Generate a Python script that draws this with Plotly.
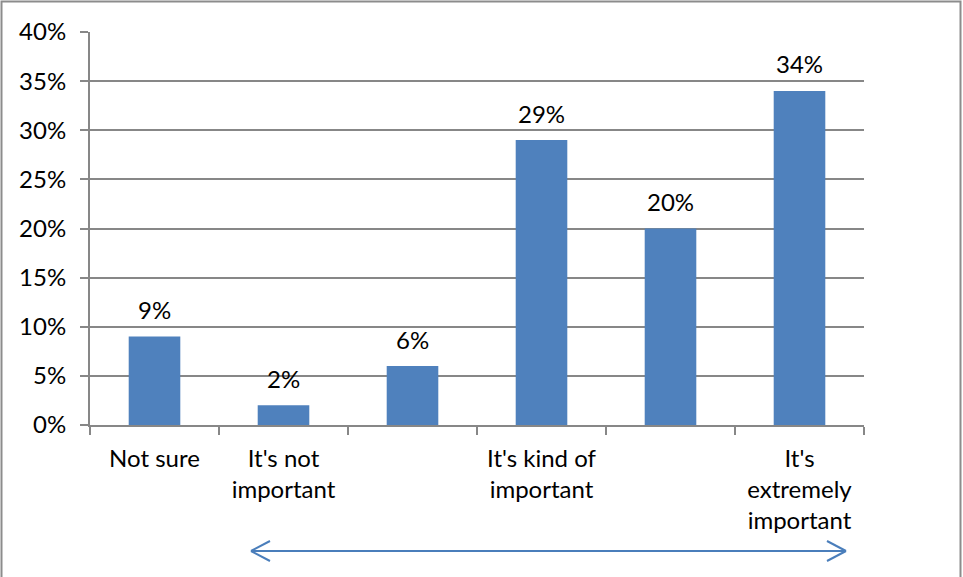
import plotly.graph_objects as go

categories = ["Not sure", "It's not<br>important", "", "It's kind of<br>important", "", "It's<br>extremely<br>important"]
values = [0.09, 0.02, 0.06, 0.29, 0.20, 0.34]
value_labels = ["9%", "2%", "6%", "29%", "20%", "34%"]
y_ticks = [0, 0.05, 0.10, 0.15, 0.20, 0.25, 0.30, 0.35, 0.40]
y_tick_labels = ["0%", "5%", "10%", "15%", "20%", "25%", "30%", "35%", "40%"]

W, H = 963, 577
ML, MR, MT, MB = 90, 99, 32, 152
PW, PH = W - ML - MR, H - MT - MB

FONT = "Lato"
BLUE = "#4F81BD"
GRID = "#878787"

x_idx = list(range(len(categories)))

fig = go.Figure()
fig.add_trace(go.Bar(x=x_idx, y=values, width=0.4, marker=dict(color=BLUE, line=dict(width=0)),
                     hoverinfo="skip"))

for i, (v, t) in enumerate(zip(values, value_labels)):
    fig.add_annotation(x=i, y=v, text=t, showarrow=False, yanchor="middle", yshift=27,
                       font=dict(family=FONT, size=24, color="#000"))

def px_x(p):
    return (p - ML) / PW

def px_y(p):
    return (H - MB - p) / PH

# outer frame
fig.add_shape(type="rect", xref="paper", yref="paper",
              x0=px_x(1.5), x1=px_x(960.5), y0=px_y(578), y1=px_y(1.5),
              line=dict(color="#8C8C8C", width=2), layer="below")

# double-headed arrow below the categories (open V heads)
ARROW = "#4A7EBB"
ax0, ax1, ay = px_x(251), px_x(846), px_y(551)
fig.add_shape(type="line", xref="paper", yref="paper", x0=ax0, x1=ax1, y0=ay, y1=ay,
              line=dict(color=ARROW, width=2))
for xs, dx in ((251, 19), (846, -19)):
    for dy in (-10, 10):
        fig.add_shape(type="line", xref="paper", yref="paper",
                      x0=px_x(xs), y0=ay, x1=px_x(xs + dx), y1=px_y(551 + dy),
                      line=dict(color=ARROW, width=2))

fig.update_layout(
    width=W, height=H,
    margin=dict(l=ML, r=MR, t=MT, b=MB, pad=0),
    paper_bgcolor="white", plot_bgcolor="white",
    showlegend=False, bargap=0.6,
    font=dict(family=FONT, size=24, color="#000"),
    xaxis=dict(range=[-0.5, 5.5], tickmode="array", tickvals=x_idx, ticktext=categories,
               ticks="", showgrid=False, zeroline=False,
               showline=True, linecolor=GRID, linewidth=2,
               minor=dict(tickmode="array", tickvals=[i - 0.5 for i in range(len(categories) + 1)],
                          ticks="outside", ticklen=8, tickcolor=GRID, tickwidth=2, showgrid=False),
               ticklabelstandoff=11,
               tickfont=dict(family=FONT, size=24, color="#000"), fixedrange=True),
    yaxis=dict(range=[0, 0.4], tickmode="array", tickvals=y_ticks, ticktext=y_tick_labels,
               ticks="outside", ticklen=8, tickcolor=GRID, tickwidth=2,
               showgrid=True, gridcolor=GRID, gridwidth=2, zeroline=False,
               showline=True, linecolor=GRID, linewidth=2,
               ticklabelstandoff=9,
               tickfont=dict(family=FONT, size=24, color="#000"), fixedrange=True),
)

fig.write_html("out.html", config={"displayModeBar": False},
               post_script="document.body.style.margin='0';document.body.style.overflow='hidden';")
